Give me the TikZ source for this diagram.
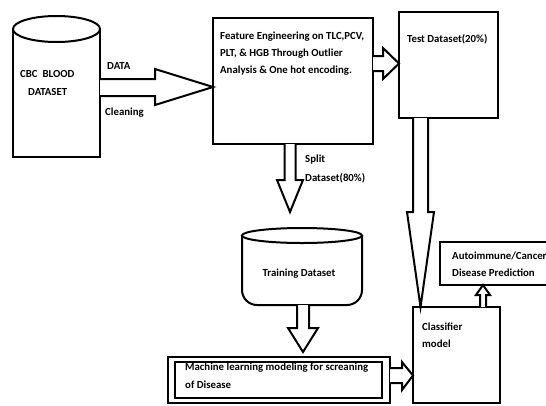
\documentclass[tikz,border=0pt]{standalone}
\usepackage{fontspec}
\setmainfont{Carlito}
\begin{document}
\begin{tikzpicture}[x=1pt,y=-1pt,
  line join=miter,
  outl/.style={draw=black,line width=2pt,fill=white},
  blk/.style={draw=black,line width=2pt,fill=white,line join=miter},
  box/.style={draw=black,line width=2pt,fill=white,inner sep=0pt,rectangle},
  txt/.style={inner sep=0pt,anchor=west,font=\fontsize{10.8}{12}\selectfont\bfseries}
]
\useasboundingbox[fill=white] (0,0) rectangle (546,405);

% CBC cylinder
\path[outl] (13,29) -- (13,157) -- (100,157) -- (100,29);
\draw[outl] (56.5,29) ellipse [x radius=43.5, y radius=13];
\node[txt] (cbc1) at (20,74) {CBC\ \ BLOOD};
\node[txt] (cbc2) at (28,92) {DATASET};

% feature box
\node[box,minimum width=160pt,minimum height=126pt] (feat) at (293,81) {};
\node[txt] (f1) at (220,37) {Feature Engineering on TLC,PCV,};
\node[txt] (f2) at (220,54) {PLT, \& HGB Through Outlier};
\node[txt] (f3) at (220,71) {Analysis \& One hot encoding.};

% test box
\node[box,minimum width=99pt,minimum height=106pt] (test) at (448.5,65) {};
\node[txt] (t1) at (407,39) {Test Dataset(20\%)};

% training cylinder
\path[outl,rounded corners=15pt] (242,235.5) -- (242,305) -- (362,305) -- (362,235.5);
\draw[outl] (302,235.5) ellipse [x radius=60, y radius=7.5];
\node[txt,anchor=center] (tr) at (299,274) {Training Dataset};

% ML box
\node[box,minimum width=222pt,minimum height=46pt] (mlo) at (279,380) {};
\node[box,minimum width=207pt,minimum height=36pt,line width=1.6pt] (mli) at (278.5,380) {};
\node[txt] (m1) at (185,368) {Machine learning modeling for screaning};
\node[txt] (m2) at (185,385) {of Disease};

% classifier box
\node[box,minimum width=87pt,minimum height=96pt] (cls) at (456.5,355) {};
\node[txt] (c1) at (422,327) {Classifier};
\node[txt] (c2) at (422,344) {model};

% prediction box
\node[box,minimum width=112pt,minimum height=43pt] (pred) at (496,263.5) {};
\node[txt] (p1) at (452,256) {Autoimmune/Cancer};
\node[txt] (p2) at (452,273) {Disease Prediction};

% labels
\node[txt] (lab1) at (107,66) {DATA};
\node[txt] (lab2) at (105,113) {Cleaning};
\node[txt] (lab3) at (305,160) {Split};
\node[txt] (lab4) at (305,178) {Dataset(80\%)};

% block arrows
% CBC -> feature
\path[blk] (100,79) -- (155,79) -- (155,69) -- (213,87) -- (155,105) -- (155,96) -- (100,96);
% feature -> test
\path[blk] (373,56) -- (383,56) -- (383,48) -- (399,63.5) -- (383,79) -- (383,71) -- (373,71);
% feature -> training (split)
\path[blk] (284.5,144) -- (284.5,180) -- (277,180) -- (290,212) -- (303,180) -- (295.5,180) -- (295.5,144);
% test -> classifier
\path[blk] (413,118) -- (413,212) -- (407,212) -- (420.5,307) -- (434,212) -- (428,212) -- (428,118);
% training -> ML
\path[blk] (297,305) -- (297,328) -- (288,328) -- (303,352) -- (318,328) -- (309,328) -- (309,305);
% ML -> classifier
\path[blk] (390,368) -- (402,368) -- (402,362) -- (413,375.5) -- (402,390) -- (402,383) -- (390,383);
% classifier -> prediction
\path[blk] (480,307) -- (480,295) -- (476,295) -- (483,285) -- (490,295) -- (486,295) -- (486,307);
\end{tikzpicture}
\end{document}
